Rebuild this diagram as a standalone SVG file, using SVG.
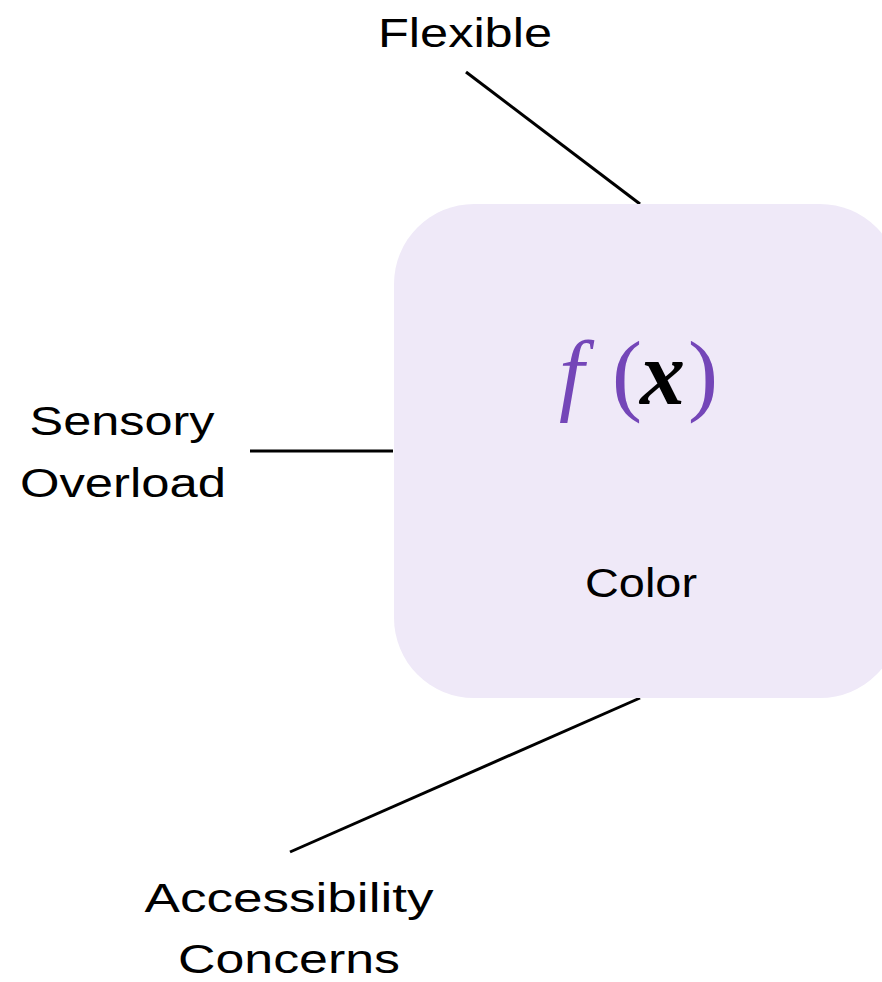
<svg xmlns="http://www.w3.org/2000/svg" width="882" height="982" viewBox="0 0 882 982">
  <style>
    .lbl { font-family: "Liberation Sans", Arial, sans-serif; font-size: 40px; fill: #000; text-anchor: middle; }
    .conn { stroke: #000; stroke-width: 3; fill: none; }
    .math { font-family: "Liberation Serif", "DejaVu Serif", serif; font-style: italic; font-size: 90px; }
    .paren { font-family: "Liberation Serif", "DejaVu Serif", serif; font-size: 90px; fill: #7446B8; }
  </style>
  <rect width="882" height="982" fill="#fff"/>

  <g id="connectors">
    <line class="conn" x1="466" y1="72" x2="640" y2="204"/>
    <line class="conn" x1="250" y1="451" x2="393" y2="451"/>
    <line class="conn" x1="640" y1="698" x2="290" y2="852"/>
  </g>

  <g id="color-node">
    <rect x="394" y="204" width="506" height="494" rx="80" ry="80" fill="#EFE9F8"/>
    <text class="math" x="559" y="404" fill="#7446B8">f</text>
    <text class="paren" x="612" y="404">(</text>
    <text class="math" x="640" y="404" fill="#000" font-weight="bold">x</text>
    <text class="paren" x="688" y="404">)</text>
    <text class="lbl" x="641" y="597" textLength="112" lengthAdjust="spacingAndGlyphs">Color</text>
  </g>

  <g id="flexible">
    <text class="lbl" x="465" y="47" textLength="174" lengthAdjust="spacingAndGlyphs">Flexible</text>
  </g>

  <g id="sensory-overload">
    <text class="lbl" x="122" y="435" textLength="185" lengthAdjust="spacingAndGlyphs">Sensory</text>
    <text class="lbl" x="123" y="497" textLength="206" lengthAdjust="spacingAndGlyphs">Overload</text>
  </g>

  <g id="accessibility-concerns">
    <text class="lbl" x="289" y="912" textLength="289" lengthAdjust="spacingAndGlyphs">Accessibility</text>
    <text class="lbl" x="289" y="973" textLength="222" lengthAdjust="spacingAndGlyphs">Concerns</text>
  </g>
</svg>
